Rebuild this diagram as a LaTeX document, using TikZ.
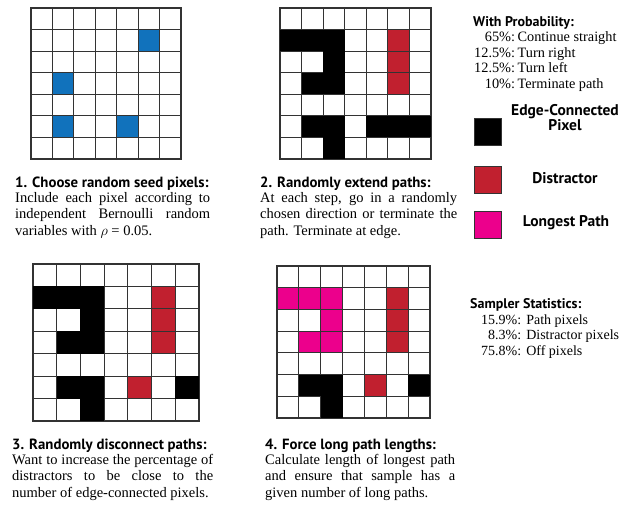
\documentclass[tikz,border=0pt]{standalone}
\usepackage{fontspec}
\setmainfont{Liberation Serif}
\newfontfamily\headfont{PT Sans}
\usepackage{tikz}
\usetikzlibrary{positioning}
\usepackage{xcolor}

\definecolor{seedblue}{HTML}{1172BC}
\definecolor{distred}{HTML}{C1202F}
\definecolor{longpink}{HTML}{EC008C}
\definecolor{gridgray}{HTML}{333333}

\tikzset{
  gridline/.style={draw=gridgray, line width=1.2pt},
  heading/.style={anchor=base west, inner sep=0pt, font=\headfont\bfseries\fontsize{14.8}{17}\selectfont},
  sidehead/.style={heading, font=\headfont\bfseries\fontsize{14}{16}\selectfont},
  bodytext/.style={anchor=north west, inner sep=0pt, align=justify, font=\fontsize{14.5}{16.5}\selectfont},
  swatch/.style={draw=gridgray, line width=1pt, minimum size=27pt, inner sep=0pt},
  legendtext/.style={anchor=base, inner sep=0pt, align=center, font=\headfont\bfseries\fontsize{15.5}{15}\selectfont},
  listtext/.style={anchor=north west, inner sep=0pt, font=\fontsize{14}{15.5}\selectfont}
}

% 7x7 grid lines in the current scope units
\newcommand{\pixgrid}{%
  \foreach \k in {1,...,6} {
    \draw[gridline] (\k,0) -- (\k,7);
    \draw[gridline] (0,\k) -- (7,\k);
  }
  \draw[gridline] (0,0) rectangle (7,7);
}

\begin{document}
\begin{tikzpicture}[x=1pt, y=-1pt]
    \useasboundingbox (0,0) rectangle (621,508);

    % grid 1: seed pixels
    \begin{scope}[shift={(31,8)}, x=21.43pt, y=-21.57pt]
        \foreach \c/\r in {5/1, 1/3, 1/5, 4/5}
            \fill[seedblue] (\c,\r) rectangle ++(1,1);
        \pixgrid
    \end{scope}

    % grid 2: extended paths
    \begin{scope}[shift={(280,8)}, x=21.57pt, y=-21.57pt]
        \foreach \c/\r in {5/1, 5/2, 5/3}
            \fill[distred] (\c,\r) rectangle ++(1,1);
        \pixgrid
        \foreach \c/\r in {0/1, 1/1, 2/1, 2/2, 1/3, 2/3, 1/5, 2/5, 4/5, 5/5, 6/5, 2/6}
            \fill[black] (\c,\r) rectangle ++(1,1);
    \end{scope}

    % grid 3: disconnected paths
    \begin{scope}[shift={(33,264)}, x=23.71pt, y=-22.43pt]
        \foreach \c/\r in {5/1, 5/2, 5/3, 4/5}
            \fill[distred] (\c,\r) rectangle ++(1,1);
        \pixgrid
        \foreach \c/\r in {0/1, 1/1, 2/1, 2/2, 1/3, 2/3, 1/5, 2/5, 6/5, 2/6}
            \fill[black] (\c,\r) rectangle ++(1,1);
    \end{scope}

    % grid 4: longest path
    \begin{scope}[shift={(277,266)}, x=21.86pt, y=-21.71pt]
        \foreach \c/\r in {5/1, 5/2, 5/3, 4/5}
            \fill[distred] (\c,\r) rectangle ++(1,1);
        \foreach \c/\r in {0/1, 1/1, 2/1, 2/2, 1/3, 2/3}
            \fill[longpink] (\c,\r) rectangle ++(1,1);
        \pixgrid
        \foreach \c/\r in {1/5, 2/5, 6/5, 2/6}
            \fill[black] (\c,\r) rectangle ++(1,1);
    \end{scope}

    % captions
    \node[heading] (seedhead) at (15,187) {1. Choose random seed pixels:};
    \node[bodytext, text width=195pt] (seedbody) at (15,192)
        {Include each pixel according to\linebreak independent Bernoulli random\linebreak variables with $\rho$ = 0.05.};

    \node[heading] (extendhead) at (260,187) {2. Randomly extend paths:};
    \node[bodytext, text width=197pt] (extendbody) at (260,192)
        {At each step, go in a randomly\linebreak chosen direction or terminate the\linebreak path. Terminate at edge.};

    \node[heading] (cuthead) at (12,449) {3. Randomly disconnect paths:};
    \node[bodytext, text width=201pt] (cutbody) at (12,454)
        {Want to increase the percentage of\linebreak distractors to be close to the\linebreak number of edge-connected pixels.};

    \node[heading] (longhead) at (265,449) {4. Force long path lengths:};
    \node[bodytext, text width=190pt] (longbody) at (265,454)
        {Calculate length of longest path\linebreak and ensure that sample has a\linebreak given number of long paths.};

    % probabilities
    \node[sidehead] (probhead) at (473,27) {With Probability:};
    \node[listtext, font=\fontsize{14.3}{15.5}\selectfont] (problist) at (474,30.5)
        {\begin{tabular}{@{}r@{\hspace{2.5pt}}l@{}}
            65\%: & Continue straight\\
            12.5\%: & Turn right\\
            12.5\%: & Turn left\\
            10\%: & Terminate path
         \end{tabular}};

    % legend
    \node[swatch, fill=black] (keyedge) at (488,132.5) {};
    \node[swatch, fill=distred] (keydist) at (488,179.5) {};
    \node[swatch, fill=longpink] (keylong) at (488,224.5) {};
    \node[legendtext] (edgelabel) at (565,131) {Edge-Connected\\Pixel};
    \node[legendtext] (distlabel) at (565,183) {Distractor};
    \node[legendtext] (longlabel) at (566,226) {Longest Path};

    % sampler statistics
    \node[sidehead] (stathead) at (470,308) {Sampler Statistics:};
    \node[listtext] (statlist) at (481,313)
        {\begin{tabular}{@{}r@{\hspace{5pt}}l@{}}
            15.9\%: & Path pixels\\
            8.3\%: & Distractor pixels\\
            75.8\%: & Off pixels
         \end{tabular}};
\end{tikzpicture}
\end{document}
